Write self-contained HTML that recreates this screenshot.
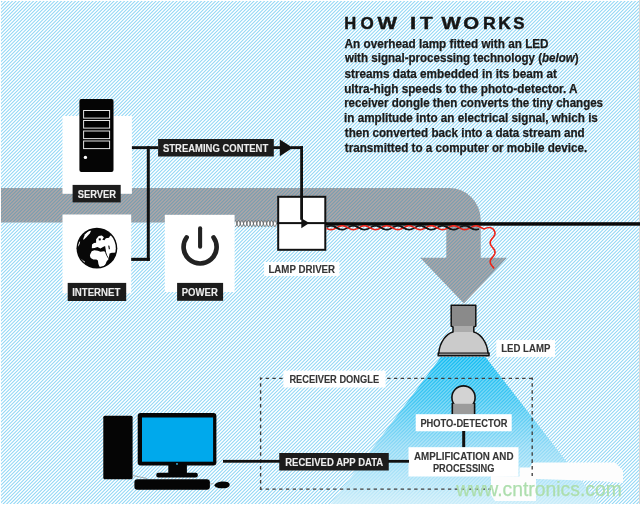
<!DOCTYPE html>
<html><head><meta charset="utf-8">
<style>
html,body{margin:0;padding:0;background:#fff;}
body{width:640px;height:505px;overflow:hidden;}
svg{display:block;will-change:transform;}
text{font-family:"Liberation Sans",sans-serif;}
</style></head>
<body>
<svg width="640" height="505" viewBox="0 0 640 505">
<defs>
  <pattern id="bgs" width="7" height="7" patternUnits="userSpaceOnUse"><rect x="0" y="0" width="1" height="1" fill="#fafdff"/><rect x="1" y="0" width="1" height="1" fill="#eaf7fd"/><rect x="2" y="0" width="1" height="1" fill="#96d9f5"/><rect x="3" y="0" width="1" height="1" fill="#dbf2fc"/><rect x="4" y="0" width="1" height="1" fill="#ffffff"/><rect x="5" y="0" width="1" height="1" fill="#bae6f9"/><rect x="6" y="0" width="1" height="1" fill="#a8dff7"/><rect x="0" y="1" width="1" height="1" fill="#eaf7fd"/><rect x="1" y="1" width="1" height="1" fill="#96d9f5"/><rect x="2" y="1" width="1" height="1" fill="#dbf2fc"/><rect x="3" y="1" width="1" height="1" fill="#ffffff"/><rect x="4" y="1" width="1" height="1" fill="#bae6f9"/><rect x="5" y="1" width="1" height="1" fill="#a8dff7"/><rect x="6" y="1" width="1" height="1" fill="#fafdff"/><rect x="0" y="2" width="1" height="1" fill="#96d9f5"/><rect x="1" y="2" width="1" height="1" fill="#dbf2fc"/><rect x="2" y="2" width="1" height="1" fill="#ffffff"/><rect x="3" y="2" width="1" height="1" fill="#bae6f9"/><rect x="4" y="2" width="1" height="1" fill="#a8dff7"/><rect x="5" y="2" width="1" height="1" fill="#fafdff"/><rect x="6" y="2" width="1" height="1" fill="#eaf7fd"/><rect x="0" y="3" width="1" height="1" fill="#dbf2fc"/><rect x="1" y="3" width="1" height="1" fill="#ffffff"/><rect x="2" y="3" width="1" height="1" fill="#bae6f9"/><rect x="3" y="3" width="1" height="1" fill="#a8dff7"/><rect x="4" y="3" width="1" height="1" fill="#fafdff"/><rect x="5" y="3" width="1" height="1" fill="#eaf7fd"/><rect x="6" y="3" width="1" height="1" fill="#96d9f5"/><rect x="0" y="4" width="1" height="1" fill="#ffffff"/><rect x="1" y="4" width="1" height="1" fill="#bae6f9"/><rect x="2" y="4" width="1" height="1" fill="#a8dff7"/><rect x="3" y="4" width="1" height="1" fill="#fafdff"/><rect x="4" y="4" width="1" height="1" fill="#eaf7fd"/><rect x="5" y="4" width="1" height="1" fill="#96d9f5"/><rect x="6" y="4" width="1" height="1" fill="#dbf2fc"/><rect x="0" y="5" width="1" height="1" fill="#bae6f9"/><rect x="1" y="5" width="1" height="1" fill="#a8dff7"/><rect x="2" y="5" width="1" height="1" fill="#fafdff"/><rect x="3" y="5" width="1" height="1" fill="#eaf7fd"/><rect x="4" y="5" width="1" height="1" fill="#96d9f5"/><rect x="5" y="5" width="1" height="1" fill="#dbf2fc"/><rect x="6" y="5" width="1" height="1" fill="#ffffff"/><rect x="0" y="6" width="1" height="1" fill="#a8dff7"/><rect x="1" y="6" width="1" height="1" fill="#fafdff"/><rect x="2" y="6" width="1" height="1" fill="#eaf7fd"/><rect x="3" y="6" width="1" height="1" fill="#96d9f5"/><rect x="4" y="6" width="1" height="1" fill="#dbf2fc"/><rect x="5" y="6" width="1" height="1" fill="#ffffff"/><rect x="6" y="6" width="1" height="1" fill="#bae6f9"/></pattern><pattern id="bands" width="7" height="7" patternUnits="userSpaceOnUse"><rect x="0" y="0" width="1" height="1" fill="#7e9eaf"/><rect x="1" y="0" width="1" height="1" fill="#a8a5a8"/><rect x="2" y="0" width="1" height="1" fill="#a6a5a8"/><rect x="3" y="0" width="1" height="1" fill="#7c9eaf"/><rect x="4" y="0" width="1" height="1" fill="#94a2ab"/><rect x="5" y="0" width="1" height="1" fill="#aea6a7"/><rect x="6" y="0" width="1" height="1" fill="#90a1ac"/><rect x="0" y="1" width="1" height="1" fill="#a8a5a8"/><rect x="1" y="1" width="1" height="1" fill="#a6a5a8"/><rect x="2" y="1" width="1" height="1" fill="#7c9eaf"/><rect x="3" y="1" width="1" height="1" fill="#94a2ab"/><rect x="4" y="1" width="1" height="1" fill="#aea6a7"/><rect x="5" y="1" width="1" height="1" fill="#90a1ac"/><rect x="6" y="1" width="1" height="1" fill="#7e9eaf"/><rect x="0" y="2" width="1" height="1" fill="#a6a5a8"/><rect x="1" y="2" width="1" height="1" fill="#7c9eaf"/><rect x="2" y="2" width="1" height="1" fill="#94a2ab"/><rect x="3" y="2" width="1" height="1" fill="#aea6a7"/><rect x="4" y="2" width="1" height="1" fill="#90a1ac"/><rect x="5" y="2" width="1" height="1" fill="#7e9eaf"/><rect x="6" y="2" width="1" height="1" fill="#a8a5a8"/><rect x="0" y="3" width="1" height="1" fill="#7c9eaf"/><rect x="1" y="3" width="1" height="1" fill="#94a2ab"/><rect x="2" y="3" width="1" height="1" fill="#aea6a7"/><rect x="3" y="3" width="1" height="1" fill="#90a1ac"/><rect x="4" y="3" width="1" height="1" fill="#7e9eaf"/><rect x="5" y="3" width="1" height="1" fill="#a8a5a8"/><rect x="6" y="3" width="1" height="1" fill="#a6a5a8"/><rect x="0" y="4" width="1" height="1" fill="#94a2ab"/><rect x="1" y="4" width="1" height="1" fill="#aea6a7"/><rect x="2" y="4" width="1" height="1" fill="#90a1ac"/><rect x="3" y="4" width="1" height="1" fill="#7e9eaf"/><rect x="4" y="4" width="1" height="1" fill="#a8a5a8"/><rect x="5" y="4" width="1" height="1" fill="#a6a5a8"/><rect x="6" y="4" width="1" height="1" fill="#7c9eaf"/><rect x="0" y="5" width="1" height="1" fill="#aea6a7"/><rect x="1" y="5" width="1" height="1" fill="#90a1ac"/><rect x="2" y="5" width="1" height="1" fill="#7e9eaf"/><rect x="3" y="5" width="1" height="1" fill="#a8a5a8"/><rect x="4" y="5" width="1" height="1" fill="#a6a5a8"/><rect x="5" y="5" width="1" height="1" fill="#7c9eaf"/><rect x="6" y="5" width="1" height="1" fill="#94a2ab"/><rect x="0" y="6" width="1" height="1" fill="#90a1ac"/><rect x="1" y="6" width="1" height="1" fill="#7e9eaf"/><rect x="2" y="6" width="1" height="1" fill="#a8a5a8"/><rect x="3" y="6" width="1" height="1" fill="#a6a5a8"/><rect x="4" y="6" width="1" height="1" fill="#7c9eaf"/><rect x="5" y="6" width="1" height="1" fill="#94a2ab"/><rect x="6" y="6" width="1" height="1" fill="#aea6a7"/></pattern><pattern id="wst" width="7" height="7" patternUnits="userSpaceOnUse"><rect x="0" y="0" width="1" height="1" fill="#ffffff" fill-opacity="0.05"/><rect x="1" y="0" width="1" height="1" fill="#ffffff" fill-opacity="0.74"/><rect x="2" y="0" width="1" height="1" fill="#ffffff" fill-opacity="0.94"/><rect x="3" y="0" width="1" height="1" fill="#ffffff" fill-opacity="0.21"/><rect x="4" y="0" width="1" height="1" fill="#ffffff" fill-opacity="0.30"/><rect x="5" y="0" width="1" height="1" fill="#ffffff" fill-opacity="0.98"/><rect x="6" y="0" width="1" height="1" fill="#ffffff" fill-opacity="0.64"/><rect x="0" y="1" width="1" height="1" fill="#ffffff" fill-opacity="0.74"/><rect x="1" y="1" width="1" height="1" fill="#ffffff" fill-opacity="0.94"/><rect x="2" y="1" width="1" height="1" fill="#ffffff" fill-opacity="0.21"/><rect x="3" y="1" width="1" height="1" fill="#ffffff" fill-opacity="0.30"/><rect x="4" y="1" width="1" height="1" fill="#ffffff" fill-opacity="0.98"/><rect x="5" y="1" width="1" height="1" fill="#ffffff" fill-opacity="0.64"/><rect x="6" y="1" width="1" height="1" fill="#ffffff" fill-opacity="0.05"/><rect x="0" y="2" width="1" height="1" fill="#ffffff" fill-opacity="0.94"/><rect x="1" y="2" width="1" height="1" fill="#ffffff" fill-opacity="0.21"/><rect x="2" y="2" width="1" height="1" fill="#ffffff" fill-opacity="0.30"/><rect x="3" y="2" width="1" height="1" fill="#ffffff" fill-opacity="0.98"/><rect x="4" y="2" width="1" height="1" fill="#ffffff" fill-opacity="0.64"/><rect x="5" y="2" width="1" height="1" fill="#ffffff" fill-opacity="0.05"/><rect x="6" y="2" width="1" height="1" fill="#ffffff" fill-opacity="0.74"/><rect x="0" y="3" width="1" height="1" fill="#ffffff" fill-opacity="0.21"/><rect x="1" y="3" width="1" height="1" fill="#ffffff" fill-opacity="0.30"/><rect x="2" y="3" width="1" height="1" fill="#ffffff" fill-opacity="0.98"/><rect x="3" y="3" width="1" height="1" fill="#ffffff" fill-opacity="0.64"/><rect x="4" y="3" width="1" height="1" fill="#ffffff" fill-opacity="0.05"/><rect x="5" y="3" width="1" height="1" fill="#ffffff" fill-opacity="0.74"/><rect x="6" y="3" width="1" height="1" fill="#ffffff" fill-opacity="0.94"/><rect x="0" y="4" width="1" height="1" fill="#ffffff" fill-opacity="0.30"/><rect x="1" y="4" width="1" height="1" fill="#ffffff" fill-opacity="0.98"/><rect x="2" y="4" width="1" height="1" fill="#ffffff" fill-opacity="0.64"/><rect x="3" y="4" width="1" height="1" fill="#ffffff" fill-opacity="0.05"/><rect x="4" y="4" width="1" height="1" fill="#ffffff" fill-opacity="0.74"/><rect x="5" y="4" width="1" height="1" fill="#ffffff" fill-opacity="0.94"/><rect x="6" y="4" width="1" height="1" fill="#ffffff" fill-opacity="0.21"/><rect x="0" y="5" width="1" height="1" fill="#ffffff" fill-opacity="0.98"/><rect x="1" y="5" width="1" height="1" fill="#ffffff" fill-opacity="0.64"/><rect x="2" y="5" width="1" height="1" fill="#ffffff" fill-opacity="0.05"/><rect x="3" y="5" width="1" height="1" fill="#ffffff" fill-opacity="0.74"/><rect x="4" y="5" width="1" height="1" fill="#ffffff" fill-opacity="0.94"/><rect x="5" y="5" width="1" height="1" fill="#ffffff" fill-opacity="0.21"/><rect x="6" y="5" width="1" height="1" fill="#ffffff" fill-opacity="0.30"/><rect x="0" y="6" width="1" height="1" fill="#ffffff" fill-opacity="0.64"/><rect x="1" y="6" width="1" height="1" fill="#ffffff" fill-opacity="0.05"/><rect x="2" y="6" width="1" height="1" fill="#ffffff" fill-opacity="0.74"/><rect x="3" y="6" width="1" height="1" fill="#ffffff" fill-opacity="0.94"/><rect x="4" y="6" width="1" height="1" fill="#ffffff" fill-opacity="0.21"/><rect x="5" y="6" width="1" height="1" fill="#ffffff" fill-opacity="0.30"/><rect x="6" y="6" width="1" height="1" fill="#ffffff" fill-opacity="0.98"/></pattern>
  <linearGradient id="coneg" x1="0" y1="357" x2="0" y2="505" gradientUnits="userSpaceOnUse">
    <stop offset="0" stop-color="#0cbaf1"/>
    <stop offset="0.3" stop-color="#3cc5f2"/>
    <stop offset="0.6" stop-color="#88d7f5"/>
    <stop offset="1" stop-color="#c8ecf9"/>
  </linearGradient>
  <clipPath id="gclip"><circle cx="96.9" cy="248.2" r="18.9"/></clipPath>
</defs>

<!-- background -->
<rect x="0" y="0" width="640" height="505" fill="url(#bgs)"/>
<rect x="0" y="0" width="640" height="1" fill="#fff"/>
<rect x="0" y="0" width="1" height="505" fill="#fff"/>

<!-- grey band + arrow -->
<path d="M1 188 H449 A31.5 31.5 0 0 1 480.7 219.5 V257.8 H507 L463.9 303.6 L420.2 257.8 H446.3 V222.6 H1 Z" fill="url(#bands)"/>

<!-- light cone -->
<path d="M441 357 L485.5 357 L600 505 L330 505 Z" fill="url(#coneg)"/>
<path d="M441 357 L485.5 357 L600 505 L330 505 Z" fill="url(#wst)" opacity="0.35"/>

<!-- white boxes -->
<rect x="62.5" y="116" width="69.4" height="77.8" fill="#fff"/>
<rect x="62.5" y="214.5" width="68.7" height="78.8" fill="#fff"/>
<rect x="164.8" y="214.8" width="69.8" height="77.2" fill="#fff"/>

<!-- server -->
<rect x="79.4" y="99" width="34.1" height="72.9" rx="2" fill="#050505"/>
<g fill="#000" stroke="#e6e6e6" stroke-width="1">
<rect x="83.6" y="110.5" width="26" height="7.6"/>
<rect x="83.6" y="120.5" width="26" height="7.6"/>
<rect x="83.6" y="131" width="26" height="7.6"/>
<rect x="83.6" y="141" width="26" height="7.6"/>
</g>
<circle cx="85.4" cy="157.4" r="1.7" fill="#fff"/>

<!-- globe -->
<circle cx="96.9" cy="248.2" r="20.4" fill="#080808"/>
<g clip-path="url(#gclip)" fill="#fff">
<path d="M89.9 255.8 L90.2 254.3 L91.7 251.2 L94.3 250.2 L97.9 250.7 L100.5 251.7 L103.6 251.2 L105.1 251.7 L105.6 253.8 L107.2 256.9 L108.7 258.9 L108.2 259.4 L106.6 261.5 L105.6 264.1 L103.6 266.6 L101 267.7 L99.4 266.6 L98.4 264.1 L97.9 260.5 L96.4 259.4 L93.3 259.4 L90.7 257.9 Z"/>
<path d="M91.8 248.3 L92 244.4 L94 243 L96.1 242.8 L96.1 239.2 L98.7 236.1 L101.8 235.6 L103.9 237.2 L102.3 239.7 L104.4 240.2 L105.9 238.2 L109 237.7 L110 236.1 L111.6 235.1 L113.6 237.2 L119 236 L119 252 L113.5 252.8 L111.8 252.7 L109.6 253.6 L108.7 258.3 L107.2 255.5 L106.1 252.2 L105.6 249.1 L105.1 246.1 L103 247.1 L100.5 248.6 L97.4 247.1 L94.6 248 Z"/>
<path d="M98.6 238.6 L100.6 238.3 L100.9 240.3 L98.9 240.6 Z" fill="#080808"/>
<path d="M83 239.6 L85 234.2 L88.4 231.1 L91.2 230.4 L89.9 233.2 L86.8 236.8 L84 239.6 Z"/>
<path d="M77.1 246.6 L78.6 242.5 L80.1 240.9 L79.6 244 L77.8 247.1 Z"/>
<path d="M78.8 257 L81.2 258.9 L85 261.8 L84.5 263.7 L82.1 262.3 L79.3 259.4 Z"/>
</g>
<g fill="#080808">
<path d="M108.2 245.5 L109.4 245.8 L109.9 249.1 L108.9 249.4 Z"/>
</g>

<!-- power icon -->
<g fill="none" stroke="#222" stroke-linecap="round">
<path d="M186.6 237.5 A16.5 16.5 0 1 0 213.6 237.5" stroke-width="4.7"/>
<line x1="200.1" y1="228.2" x2="200.1" y2="246.8" stroke-width="4.1"/>
</g>

<!-- connection lines -->
<g fill="#111">
<rect x="131.9" y="146.2" width="26.2" height="2.9"/>
<rect x="146.8" y="146.2" width="3" height="114.7"/>
<rect x="131.2" y="257.8" width="18.6" height="3.1"/>
<rect x="273" y="146.2" width="8" height="2.9"/>
<path d="M279.8 139.6 L279.8 156.3 L292.8 147.7 Z"/>
<rect x="291" y="146.2" width="12" height="2.9"/>
<rect x="300.2" y="146.2" width="2.8" height="73.9"/>
</g>

<!-- labels dark -->
<g fill="#1c1c1c">
<rect x="158.1" y="139" width="115.7" height="17.5"/>
<rect x="72.6" y="184.9" width="48.1" height="17.5"/>
<rect x="67.7" y="282.9" width="58.5" height="18.1"/>
<rect x="177.1" y="282.9" width="46" height="17.9"/>
<rect x="279.25" y="453" width="109.5" height="17.5"/>
</g>

<!-- coil -->
<path d="M235.30 226.60 L235.55 226.52 L235.80 226.27 L236.05 225.87 L236.30 225.34 L236.55 224.71 L236.80 224.03 L237.05 223.31 L237.30 222.62 L237.55 221.98 L237.80 221.43 L238.05 221.00 L238.30 220.72 L238.55 220.60 L238.80 220.65 L239.05 220.87 L239.30 221.24 L239.55 221.75 L239.80 222.35 L240.05 223.03 L240.30 223.74 L240.55 224.45 L240.80 225.10 L241.05 225.67 L241.30 226.12 L241.55 226.44 L241.80 226.59 L242.05 226.57 L242.30 226.39 L242.55 226.04 L242.80 225.56 L243.05 224.97 L243.30 224.31 L243.55 223.60 L243.80 222.89 L244.05 222.23 L244.30 221.64 L244.55 221.16 L244.80 220.81 L245.05 220.63 L245.30 220.61 L245.55 220.76 L245.80 221.08 L246.05 221.53 L246.30 222.10 L246.55 222.75 L246.80 223.46 L247.05 224.17 L247.30 224.85 L247.55 225.45 L247.80 225.96 L248.05 226.33 L248.30 226.55 L248.55 226.60 L248.80 226.48 L249.05 226.20 L249.30 225.77 L249.55 225.22 L249.80 224.58 L250.05 223.89 L250.30 223.17 L250.55 222.49 L250.80 221.86 L251.05 221.33 L251.30 220.93 L251.55 220.68 L251.80 220.60 L252.05 220.68 L252.30 220.93 L252.55 221.33 L252.80 221.86 L253.05 222.49 L253.30 223.17 L253.55 223.89 L253.80 224.58 L254.05 225.22 L254.30 225.77 L254.55 226.20 L254.80 226.48 L255.05 226.60 L255.30 226.55 L255.55 226.33 L255.80 225.96 L256.05 225.45 L256.30 224.85 L256.55 224.17 L256.80 223.46 L257.05 222.75 L257.30 222.10 L257.55 221.53 L257.80 221.08 L258.05 220.76 L258.30 220.61 L258.55 220.63 L258.80 220.81 L259.05 221.16 L259.30 221.64 L259.55 222.23 L259.80 222.89 L260.05 223.60 L260.30 224.31 L260.55 224.97 L260.80 225.56 L261.05 226.04 L261.30 226.39 L261.55 226.57 L261.80 226.59 L262.05 226.44 L262.30 226.12 L262.55 225.67 L262.80 225.10 L263.05 224.45 L263.30 223.74 L263.55 223.03 L263.80 222.35 L264.05 221.75 L264.30 221.24 L264.55 220.87 L264.80 220.65 L265.05 220.60 L265.30 220.72 L265.55 221.00 L265.80 221.43 L266.05 221.98 L266.30 222.62 L266.55 223.31 L266.80 224.03 L267.05 224.71 L267.30 225.34 L267.55 225.87 L267.80 226.27 L268.05 226.52 L268.30 226.60 L268.55 226.52 L268.80 226.27 L269.05 225.87 L269.30 225.34 L269.55 224.71 L269.80 224.03 L270.05 223.31 L270.30 222.62 L270.55 221.98 L270.80 221.43 L271.05 221.00 L271.30 220.72 L271.55 220.60 L271.80 220.65 L272.05 220.87 L272.30 221.24 L272.55 221.75 L272.80 222.35 L273.05 223.03 L273.30 223.74 L273.55 224.45 L273.80 225.10 L274.05 225.67 L274.30 226.12 L274.55 226.44 L274.80 226.59 L275.05 226.57 L275.30 226.39 L275.55 226.04 L275.80 225.56 L276.05 224.97 L276.30 224.31 L276.55 223.60 L276.55 223.60 L276.30 222.89 L276.05 222.23 L275.80 221.64 L275.55 221.16 L275.30 220.81 L275.05 220.63 L274.80 220.61 L274.55 220.76 L274.30 221.08 L274.05 221.53 L273.80 222.10 L273.55 222.75 L273.30 223.46 L273.05 224.17 L272.80 224.85 L272.55 225.45 L272.30 225.96 L272.05 226.33 L271.80 226.55 L271.55 226.60 L271.30 226.48 L271.05 226.20 L270.80 225.77 L270.55 225.22 L270.30 224.58 L270.05 223.89 L269.80 223.17 L269.55 222.49 L269.30 221.86 L269.05 221.33 L268.80 220.93 L268.55 220.68 L268.30 220.60 L268.05 220.68 L267.80 220.93 L267.55 221.33 L267.30 221.86 L267.05 222.49 L266.80 223.17 L266.55 223.89 L266.30 224.58 L266.05 225.22 L265.80 225.77 L265.55 226.20 L265.30 226.48 L265.05 226.60 L264.80 226.55 L264.55 226.33 L264.30 225.96 L264.05 225.45 L263.80 224.85 L263.55 224.17 L263.30 223.46 L263.05 222.75 L262.80 222.10 L262.55 221.53 L262.30 221.08 L262.05 220.76 L261.80 220.61 L261.55 220.63 L261.30 220.81 L261.05 221.16 L260.80 221.64 L260.55 222.23 L260.30 222.89 L260.05 223.60 L259.80 224.31 L259.55 224.97 L259.30 225.56 L259.05 226.04 L258.80 226.39 L258.55 226.57 L258.30 226.59 L258.05 226.44 L257.80 226.12 L257.55 225.67 L257.30 225.10 L257.05 224.45 L256.80 223.74 L256.55 223.03 L256.30 222.35 L256.05 221.75 L255.80 221.24 L255.55 220.87 L255.30 220.65 L255.05 220.60 L254.80 220.72 L254.55 221.00 L254.30 221.43 L254.05 221.98 L253.80 222.62 L253.55 223.31 L253.30 224.03 L253.05 224.71 L252.80 225.34 L252.55 225.87 L252.30 226.27 L252.05 226.52 L251.80 226.60 L251.55 226.52 L251.30 226.27 L251.05 225.87 L250.80 225.34 L250.55 224.71 L250.30 224.03 L250.05 223.31 L249.80 222.62 L249.55 221.98 L249.30 221.43 L249.05 221.00 L248.80 220.72 L248.55 220.60 L248.30 220.65 L248.05 220.87 L247.80 221.24 L247.55 221.75 L247.30 222.35 L247.05 223.03 L246.80 223.74 L246.55 224.45 L246.30 225.10 L246.05 225.67 L245.80 226.12 L245.55 226.44 L245.30 226.59 L245.05 226.57 L244.80 226.39 L244.55 226.04 L244.30 225.56 L244.05 224.97 L243.80 224.31 L243.55 223.60 L243.30 222.89 L243.05 222.23 L242.80 221.64 L242.55 221.16 L242.30 220.81 L242.05 220.63 L241.80 220.61 L241.55 220.76 L241.30 221.08 L241.05 221.53 L240.80 222.10 L240.55 222.75 L240.30 223.46 L240.05 224.17 L239.80 224.85 L239.55 225.45 L239.30 225.96 L239.05 226.33 L238.80 226.55 L238.55 226.60 L238.30 226.48 L238.05 226.20 L237.80 225.77 L237.55 225.22 L237.30 224.58 L237.05 223.89 L236.80 223.17 L236.55 222.49 L236.30 221.86 L236.05 221.33 L235.80 220.93 L235.55 220.68 L235.30 220.60 Z" fill="#fff"/>
<path d="M235.30 226.60 L235.55 226.52 L235.80 226.27 L236.05 225.87 L236.30 225.34 L236.55 224.71 L236.80 224.03 L237.05 223.31 L237.30 222.62 L237.55 221.98 L237.80 221.43 L238.05 221.00 L238.30 220.72 L238.55 220.60 L238.80 220.65 L239.05 220.87 L239.30 221.24 L239.55 221.75 L239.80 222.35 L240.05 223.03 L240.30 223.74 L240.55 224.45 L240.80 225.10 L241.05 225.67 L241.30 226.12 L241.55 226.44 L241.80 226.59 L242.05 226.57 L242.30 226.39 L242.55 226.04 L242.80 225.56 L243.05 224.97 L243.30 224.31 L243.55 223.60 L243.80 222.89 L244.05 222.23 L244.30 221.64 L244.55 221.16 L244.80 220.81 L245.05 220.63 L245.30 220.61 L245.55 220.76 L245.80 221.08 L246.05 221.53 L246.30 222.10 L246.55 222.75 L246.80 223.46 L247.05 224.17 L247.30 224.85 L247.55 225.45 L247.80 225.96 L248.05 226.33 L248.30 226.55 L248.55 226.60 L248.80 226.48 L249.05 226.20 L249.30 225.77 L249.55 225.22 L249.80 224.58 L250.05 223.89 L250.30 223.17 L250.55 222.49 L250.80 221.86 L251.05 221.33 L251.30 220.93 L251.55 220.68 L251.80 220.60 L252.05 220.68 L252.30 220.93 L252.55 221.33 L252.80 221.86 L253.05 222.49 L253.30 223.17 L253.55 223.89 L253.80 224.58 L254.05 225.22 L254.30 225.77 L254.55 226.20 L254.80 226.48 L255.05 226.60 L255.30 226.55 L255.55 226.33 L255.80 225.96 L256.05 225.45 L256.30 224.85 L256.55 224.17 L256.80 223.46 L257.05 222.75 L257.30 222.10 L257.55 221.53 L257.80 221.08 L258.05 220.76 L258.30 220.61 L258.55 220.63 L258.80 220.81 L259.05 221.16 L259.30 221.64 L259.55 222.23 L259.80 222.89 L260.05 223.60 L260.30 224.31 L260.55 224.97 L260.80 225.56 L261.05 226.04 L261.30 226.39 L261.55 226.57 L261.80 226.59 L262.05 226.44 L262.30 226.12 L262.55 225.67 L262.80 225.10 L263.05 224.45 L263.30 223.74 L263.55 223.03 L263.80 222.35 L264.05 221.75 L264.30 221.24 L264.55 220.87 L264.80 220.65 L265.05 220.60 L265.30 220.72 L265.55 221.00 L265.80 221.43 L266.05 221.98 L266.30 222.62 L266.55 223.31 L266.80 224.03 L267.05 224.71 L267.30 225.34 L267.55 225.87 L267.80 226.27 L268.05 226.52 L268.30 226.60 L268.55 226.52 L268.80 226.27 L269.05 225.87 L269.30 225.34 L269.55 224.71 L269.80 224.03 L270.05 223.31 L270.30 222.62 L270.55 221.98 L270.80 221.43 L271.05 221.00 L271.30 220.72 L271.55 220.60 L271.80 220.65 L272.05 220.87 L272.30 221.24 L272.55 221.75 L272.80 222.35 L273.05 223.03 L273.30 223.74 L273.55 224.45 L273.80 225.10 L274.05 225.67 L274.30 226.12 L274.55 226.44 L274.80 226.59 L275.05 226.57 L275.30 226.39 L275.55 226.04 L275.80 225.56 L276.05 224.97 L276.30 224.31 L276.55 223.60 M235.30 220.60 L235.55 220.68 L235.80 220.93 L236.05 221.33 L236.30 221.86 L236.55 222.49 L236.80 223.17 L237.05 223.89 L237.30 224.58 L237.55 225.22 L237.80 225.77 L238.05 226.20 L238.30 226.48 L238.55 226.60 L238.80 226.55 L239.05 226.33 L239.30 225.96 L239.55 225.45 L239.80 224.85 L240.05 224.17 L240.30 223.46 L240.55 222.75 L240.80 222.10 L241.05 221.53 L241.30 221.08 L241.55 220.76 L241.80 220.61 L242.05 220.63 L242.30 220.81 L242.55 221.16 L242.80 221.64 L243.05 222.23 L243.30 222.89 L243.55 223.60 L243.80 224.31 L244.05 224.97 L244.30 225.56 L244.55 226.04 L244.80 226.39 L245.05 226.57 L245.30 226.59 L245.55 226.44 L245.80 226.12 L246.05 225.67 L246.30 225.10 L246.55 224.45 L246.80 223.74 L247.05 223.03 L247.30 222.35 L247.55 221.75 L247.80 221.24 L248.05 220.87 L248.30 220.65 L248.55 220.60 L248.80 220.72 L249.05 221.00 L249.30 221.43 L249.55 221.98 L249.80 222.62 L250.05 223.31 L250.30 224.03 L250.55 224.71 L250.80 225.34 L251.05 225.87 L251.30 226.27 L251.55 226.52 L251.80 226.60 L252.05 226.52 L252.30 226.27 L252.55 225.87 L252.80 225.34 L253.05 224.71 L253.30 224.03 L253.55 223.31 L253.80 222.62 L254.05 221.98 L254.30 221.43 L254.55 221.00 L254.80 220.72 L255.05 220.60 L255.30 220.65 L255.55 220.87 L255.80 221.24 L256.05 221.75 L256.30 222.35 L256.55 223.03 L256.80 223.74 L257.05 224.45 L257.30 225.10 L257.55 225.67 L257.80 226.12 L258.05 226.44 L258.30 226.59 L258.55 226.57 L258.80 226.39 L259.05 226.04 L259.30 225.56 L259.55 224.97 L259.80 224.31 L260.05 223.60 L260.30 222.89 L260.55 222.23 L260.80 221.64 L261.05 221.16 L261.30 220.81 L261.55 220.63 L261.80 220.61 L262.05 220.76 L262.30 221.08 L262.55 221.53 L262.80 222.10 L263.05 222.75 L263.30 223.46 L263.55 224.17 L263.80 224.85 L264.05 225.45 L264.30 225.96 L264.55 226.33 L264.80 226.55 L265.05 226.60 L265.30 226.48 L265.55 226.20 L265.80 225.77 L266.05 225.22 L266.30 224.58 L266.55 223.89 L266.80 223.17 L267.05 222.49 L267.30 221.86 L267.55 221.33 L267.80 220.93 L268.05 220.68 L268.30 220.60 L268.55 220.68 L268.80 220.93 L269.05 221.33 L269.30 221.86 L269.55 222.49 L269.80 223.17 L270.05 223.89 L270.30 224.58 L270.55 225.22 L270.80 225.77 L271.05 226.20 L271.30 226.48 L271.55 226.60 L271.80 226.55 L272.05 226.33 L272.30 225.96 L272.55 225.45 L272.80 224.85 L273.05 224.17 L273.30 223.46 L273.55 222.75 L273.80 222.10 L274.05 221.53 L274.30 221.08 L274.55 220.76 L274.80 220.61 L275.05 220.63 L275.30 220.81 L275.55 221.16 L275.80 221.64 L276.05 222.23 L276.30 222.89 L276.55 223.60" fill="none" stroke="#555" stroke-width="0.9"/>

<!-- lamp driver -->
<rect x="278.2" y="196.8" width="47.1" height="53" fill="#fff" stroke="#111" stroke-width="2"/>
<rect x="277.2" y="222.1" width="49" height="2" fill="#111"/>
<path d="M301.3 218.3 L301.3 228.2 L309.3 223.1 Z" fill="#111"/>
<rect x="300.2" y="195.8" width="2.8" height="24" fill="#111"/>

<!-- right edge -->
<rect x="639" y="0" width="1" height="505" fill="#d6d6d6"/>
<rect x="0" y="504" width="640" height="1" fill="#fff"/>
<!-- main black line -->
<rect x="326" y="222.2" width="314" height="3.5" fill="#0a0a0a"/>

<!-- waves -->
<path d="M326.50 227.13 L327.00 226.88 L327.50 226.65 L328.00 226.44 L328.50 226.25 L329.00 226.09 L329.50 225.97 L330.00 225.87 L330.50 225.82 L331.00 225.80 L331.50 225.82 L332.00 225.87 L332.50 225.97 L333.00 226.09 L333.50 226.25 L334.00 226.44 L334.50 226.65 L335.00 226.88 L335.50 227.13 L336.00 227.39 L336.50 227.66 L337.00 227.93 L337.50 228.19 L338.00 228.44 L338.50 228.68 L339.00 228.90 L339.50 229.09 L340.00 229.26 L340.50 229.40 L341.00 229.50 L341.50 229.57 L342.00 229.60 L342.50 229.59 L343.00 229.55 L343.50 229.46 L344.00 229.35 L344.50 229.20 L345.00 229.02 L345.50 228.81 L346.00 228.59 L346.50 228.34 L347.00 228.09 L347.50 227.82 L348.00 227.55 L348.50 227.29 L349.00 227.03 L349.50 226.79 L350.00 226.56 L350.50 226.36 L351.00 226.19 L351.50 226.04 L352.00 225.93 L352.50 225.85 L353.00 225.81 L353.50 225.80 L354.00 225.84 L354.50 225.91 L355.00 226.01 L355.50 226.15 L356.00 226.32 L356.50 226.52 L357.00 226.74 L357.50 226.98 L358.00 227.24 L358.50 227.50 L359.00 227.77 L359.50 228.03 L360.00 228.29 L360.50 228.54 L361.00 228.77 L361.50 228.98 L362.00 229.16 L362.50 229.32 L363.00 229.44 L363.50 229.53 L364.00 229.58 L364.50 229.60 L365.00 229.58 L365.50 229.52 L366.00 229.42 L366.50 229.29 L367.00 229.13 L367.50 228.94 L368.00 228.73 L368.50 228.49 L369.00 228.24 L369.50 227.98 L370.00 227.71 L370.50 227.45 L371.00 227.18 L371.50 226.93 L372.00 226.70 L372.50 226.48 L373.00 226.29 L373.50 226.12 L374.00 225.99 L374.50 225.89 L375.00 225.83 L375.50 225.80 L376.00 225.81 L376.50 225.86 L377.00 225.95 L377.50 226.07 L378.00 226.22 L378.50 226.40 L379.00 226.61 L379.50 226.84 L380.00 227.08 L380.50 227.34 L381.00 227.61 L381.50 227.87 L382.00 228.14 L382.50 228.39 L383.00 228.63 L383.50 228.86 L384.00 229.06 L384.50 229.23 L385.00 229.37 L385.50 229.48 L386.00 229.56 L386.50 229.60 L387.00 229.60 L387.50 229.56 L388.00 229.48 L388.50 229.37 L389.00 229.23 L389.50 229.06 L390.00 228.86 L390.50 228.63 L391.00 228.39 L391.50 228.14 L392.00 227.87 L392.50 227.61 L393.00 227.34 L393.50 227.08 L394.00 226.84 L394.50 226.61 L395.00 226.40 L395.50 226.22 L396.00 226.07 L396.50 225.95 L397.00 225.86 L397.50 225.81 L398.00 225.80 L398.50 225.83 L399.00 225.89 L399.50 225.99 L400.00 226.12 L400.50 226.29 L401.00 226.48 L401.50 226.70 L402.00 226.93 L402.50 227.18 L403.00 227.45 L403.50 227.71 L404.00 227.98 L404.50 228.24 L405.00 228.49 L405.50 228.73 L406.00 228.94 L406.50 229.13 L407.00 229.29 L407.50 229.42 L408.00 229.52 L408.50 229.58 L409.00 229.60 L409.50 229.58 L410.00 229.53 L410.50 229.44 L411.00 229.32 L411.50 229.16 L412.00 228.98 L412.50 228.77 L413.00 228.54 L413.50 228.29 L414.00 228.03 L414.50 227.77 L415.00 227.50 L415.50 227.24 L416.00 226.98 L416.50 226.74 L417.00 226.52 L417.50 226.32 L418.00 226.15 L418.50 226.01 L419.00 225.91 L419.50 225.84 L420.00 225.80 L420.50 225.81 L421.00 225.85 L421.50 225.93 L422.00 226.04 L422.50 226.19 L423.00 226.36 L423.50 226.56 L424.00 226.79 L424.50 227.03 L425.00 227.29 L425.50 227.55 L426.00 227.82 L426.50 228.09 L427.00 228.34 L427.50 228.59 L428.00 228.81 L428.50 229.02 L429.00 229.20 L429.50 229.35 L430.00 229.46 L430.50 229.55 L431.00 229.59 L431.50 229.60 L432.00 229.57 L432.50 229.50 L433.00 229.40 L433.50 229.26 L434.00 229.09 L434.50 228.90 L435.00 228.68 L435.50 228.44 L436.00 228.19 L436.50 227.93 L437.00 227.66 L437.50 227.39 L438.00 227.13 L438.50 226.88 L439.00 226.65 L439.50 226.44 L440.00 226.25 L440.50 226.09 L441.00 225.97 L441.50 225.87 L442.00 225.82 L442.50 225.80 L443.00 225.82 L443.50 225.87 L444.00 225.97 L444.50 226.09 L445.00 226.25 L445.50 226.44 L446.00 226.65 L446.50 226.88 L447.00 227.13 L447.50 227.39 L448.00 227.66 L448.50 227.93 L449.00 228.19 L449.50 228.44 L450.00 228.68 L450.50 228.90 L451.00 229.09 L451.50 229.26 L452.00 229.40 L452.50 229.50 L453.00 229.57 L453.50 229.60 L454.00 229.59 L454.50 229.55 L455.00 229.46 L455.50 229.35 L456.00 229.20 L456.50 229.02 L457.00 228.81 L457.50 228.59 L458.00 228.34 L458.50 228.09 L459.00 227.82 L459.50 227.55 L460.00 227.29 L460.50 227.03 L461.00 226.79 L461.50 226.56 L462.00 226.36 L462.50 226.19 L463.00 226.04 L463.50 225.93 L464.00 225.85 L464.50 225.81 L465.00 225.80 L465.50 225.84 L466.00 225.91 L466.50 226.01 L467.00 226.15 L467.50 226.32 L468.00 226.52 L468.50 226.74 L469.00 226.98 L469.50 227.24 L470.00 227.50 L470.50 227.77 L471.00 228.03 L471.50 228.29 L472.00 228.54 L472.50 228.77 L473.00 228.98 L473.50 229.16 L474.00 229.32 L474.50 229.44 L475.00 229.53 L475.50 229.58 L476.00 229.60 L476.50 229.58 L477.00 229.52 L477.50 229.42 L478.00 229.29 L478.50 229.13 L479.00 228.94" fill="none" stroke="#151515" stroke-width="1.7"/>
<path d="M326.50 228.27 L327.00 228.52 L327.50 228.75 L328.00 228.96 L328.50 229.15 L329.00 229.31 L329.50 229.43 L330.00 229.53 L330.50 229.58 L331.00 229.60 L331.50 229.58 L332.00 229.53 L332.50 229.43 L333.00 229.31 L333.50 229.15 L334.00 228.96 L334.50 228.75 L335.00 228.52 L335.50 228.27 L336.00 228.01 L336.50 227.74 L337.00 227.47 L337.50 227.21 L338.00 226.96 L338.50 226.72 L339.00 226.50 L339.50 226.31 L340.00 226.14 L340.50 226.00 L341.00 225.90 L341.50 225.83 L342.00 225.80 L342.50 225.81 L343.00 225.85 L343.50 225.94 L344.00 226.05 L344.50 226.20 L345.00 226.38 L345.50 226.59 L346.00 226.81 L346.50 227.06 L347.00 227.31 L347.50 227.58 L348.00 227.85 L348.50 228.11 L349.00 228.37 L349.50 228.61 L350.00 228.84 L350.50 229.04 L351.00 229.21 L351.50 229.36 L352.00 229.47 L352.50 229.55 L353.00 229.59 L353.50 229.60 L354.00 229.56 L354.50 229.49 L355.00 229.39 L355.50 229.25 L356.00 229.08 L356.50 228.88 L357.00 228.66 L357.50 228.42 L358.00 228.16 L358.50 227.90 L359.00 227.63 L359.50 227.37 L360.00 227.11 L360.50 226.86 L361.00 226.63 L361.50 226.42 L362.00 226.24 L362.50 226.08 L363.00 225.96 L363.50 225.87 L364.00 225.82 L364.50 225.80 L365.00 225.82 L365.50 225.88 L366.00 225.98 L366.50 226.11 L367.00 226.27 L367.50 226.46 L368.00 226.67 L368.50 226.91 L369.00 227.16 L369.50 227.42 L370.00 227.69 L370.50 227.95 L371.00 228.22 L371.50 228.47 L372.00 228.70 L372.50 228.92 L373.00 229.11 L373.50 229.28 L374.00 229.41 L374.50 229.51 L375.00 229.57 L375.50 229.60 L376.00 229.59 L376.50 229.54 L377.00 229.45 L377.50 229.33 L378.00 229.18 L378.50 229.00 L379.00 228.79 L379.50 228.56 L380.00 228.32 L380.50 228.06 L381.00 227.79 L381.50 227.53 L382.00 227.26 L382.50 227.01 L383.00 226.77 L383.50 226.54 L384.00 226.34 L384.50 226.17 L385.00 226.03 L385.50 225.92 L386.00 225.84 L386.50 225.80 L387.00 225.80 L387.50 225.84 L388.00 225.92 L388.50 226.03 L389.00 226.17 L389.50 226.34 L390.00 226.54 L390.50 226.77 L391.00 227.01 L391.50 227.26 L392.00 227.53 L392.50 227.79 L393.00 228.06 L393.50 228.32 L394.00 228.56 L394.50 228.79 L395.00 229.00 L395.50 229.18 L396.00 229.33 L396.50 229.45 L397.00 229.54 L397.50 229.59 L398.00 229.60 L398.50 229.57 L399.00 229.51 L399.50 229.41 L400.00 229.28 L400.50 229.11 L401.00 228.92 L401.50 228.70 L402.00 228.47 L402.50 228.22 L403.00 227.95 L403.50 227.69 L404.00 227.42 L404.50 227.16 L405.00 226.91 L405.50 226.67 L406.00 226.46 L406.50 226.27 L407.00 226.11 L407.50 225.98 L408.00 225.88 L408.50 225.82 L409.00 225.80 L409.50 225.82 L410.00 225.87 L410.50 225.96 L411.00 226.08 L411.50 226.24 L412.00 226.42 L412.50 226.63 L413.00 226.86 L413.50 227.11 L414.00 227.37 L414.50 227.63 L415.00 227.90 L415.50 228.16 L416.00 228.42 L416.50 228.66 L417.00 228.88 L417.50 229.08 L418.00 229.25 L418.50 229.39 L419.00 229.49 L419.50 229.56 L420.00 229.60 L420.50 229.59 L421.00 229.55 L421.50 229.47 L422.00 229.36 L422.50 229.21 L423.00 229.04 L423.50 228.84 L424.00 228.61 L424.50 228.37 L425.00 228.11 L425.50 227.85 L426.00 227.58 L426.50 227.31 L427.00 227.06 L427.50 226.81 L428.00 226.59 L428.50 226.38 L429.00 226.20 L429.50 226.05 L430.00 225.94 L430.50 225.85 L431.00 225.81 L431.50 225.80 L432.00 225.83 L432.50 225.90 L433.00 226.00 L433.50 226.14 L434.00 226.31 L434.50 226.50 L435.00 226.72 L435.50 226.96 L436.00 227.21 L436.50 227.47 L437.00 227.74 L437.50 228.01 L438.00 228.27 L438.50 228.52 L439.00 228.75 L439.50 228.96 L440.00 229.15 L440.50 229.31 L441.00 229.43 L441.50 229.53 L442.00 229.58 L442.50 229.60 L443.00 229.58 L443.50 229.53 L444.00 229.43 L444.50 229.31 L445.00 229.15 L445.50 228.96 L446.00 228.75 L446.50 228.52 L447.00 228.27 L447.50 228.01 L448.00 227.74 L448.50 227.47 L449.00 227.21 L449.50 226.96 L450.00 226.72 L450.50 226.50 L451.00 226.31 L451.50 226.14 L452.00 226.00 L452.50 225.90 L453.00 225.83 L453.50 225.80 L454.00 225.81 L454.50 225.85 L455.00 225.94 L455.50 226.05 L456.00 226.20 L456.50 226.38 L457.00 226.59 L457.50 226.81 L458.00 227.06 L458.50 227.31 L459.00 227.58 L459.50 227.85 L460.00 228.11 L460.50 228.37 L461.00 228.61 L461.50 228.84 L462.00 229.04 L462.50 229.21 L463.00 229.36 L463.50 229.47 L464.00 229.55 L464.50 229.59 L465.00 229.60 L465.50 229.56 L466.00 229.49 L466.50 229.39 L467.00 229.25 L467.50 229.08 L468.00 228.88 L468.50 228.66 L469.00 228.42 L469.50 228.16 L470.00 227.90 L470.50 227.63 L471.00 227.37 L471.50 227.11 L472.00 226.86 L472.50 226.63 L473.00 226.42 L473.50 226.24 L474.00 226.08 L474.50 225.96 L475.00 225.87 L475.50 225.82 L476.00 225.80 L476.50 225.82 L477.00 225.88 L477.50 225.98 L478.00 226.11 L478.50 226.27 L479.00 226.46 L479.50 226.67 L480.00 226.91 L480.50 227.16 L481.00 227.42 L481.50 227.69 L482.00 227.95 L482.50 228.22 L483.00 228.47 L483.50 228.70 L484.00 228.92 C487 227.5 490 226.5 492 228.5 L492.60 228.50 L493.00 229.00 L493.38 229.50 L493.74 230.00 L494.07 230.50 L494.37 231.00 L494.61 231.50 L494.80 232.00 L494.93 232.50 L494.99 233.00 L494.99 233.50 L494.93 234.00 L494.80 234.50 L494.61 235.00 L494.37 235.50 L494.07 236.00 L493.74 236.50 L493.38 237.00 L493.00 237.50 L492.60 238.00 L492.20 238.50 L491.82 239.00 L491.46 239.50 L491.13 240.00 L490.83 240.50 L490.59 241.00 L490.40 241.50 L490.27 242.00 L490.21 242.50 L490.21 243.00 L490.27 243.50 L490.40 244.00 L490.59 244.50 L490.83 245.00 L491.13 245.50 L491.46 246.00 L491.82 246.50 L492.20 247.00 L492.60 247.50 L493.00 248.00 L493.38 248.50 L493.74 249.00 L494.07 249.50 L494.37 250.00 L494.61 250.50 L494.80 251.00 L494.93 251.50 L494.99 252.00 L494.99 252.50 L494.93 253.00 L494.80 253.50 L494.61 254.00 L494.37 254.50 L494.07 255.00 L493.74 255.50 L493.38 256.00 L493.00 256.50 L492.60 257.00 L492.20 257.50 L491.82 258.00 L491.46 258.50 L491.13 259.00 L490.83 259.50 L490.59 260.00 L490.40 260.50 L490.27 261.00 L490.21 261.50 L490.21 262.00 L490.27 262.50 L490.40 263.00 L490.59 263.50 L490.83 264.00 L491.13 264.50 L491.46 265.00 L491.82 265.50 L492.20 266.00 L492.60 266.50 L493.00 267.00 L493.38 267.50 L493.74 268.00 L494.07 268.50" fill="none" stroke="#ea2318" stroke-width="1.6"/>
<path d="M333.57 226.28 L333.82 226.37 L334.07 226.47 L334.32 226.57 L334.57 226.69 L334.82 226.80 L335.07 226.92 L335.32 227.04 L335.57 227.17 L335.82 227.30 L336.07 227.43 L336.32 227.57 L336.57 227.70 L336.82 227.83 L337.07 227.97 L337.32 228.10 L337.57 228.23 L337.82 228.36 L338.07 228.48 L338.32 228.60 L338.57 228.71 L338.82 228.83 L339.07 228.93 L339.32 229.03 L339.57 229.12 M355.88 226.28 L356.12 226.37 L356.38 226.47 L356.62 226.57 L356.88 226.69 L357.12 226.80 L357.38 226.92 L357.62 227.04 L357.88 227.17 L358.12 227.30 L358.38 227.43 L358.62 227.57 L358.88 227.70 L359.12 227.83 L359.38 227.97 L359.62 228.10 L359.88 228.23 L360.12 228.36 L360.38 228.48 L360.62 228.60 L360.88 228.71 L361.12 228.83 L361.38 228.93 L361.62 229.03 L361.88 229.12 M378.18 226.28 L378.43 226.37 L378.68 226.47 L378.93 226.57 L379.18 226.69 L379.43 226.80 L379.68 226.92 L379.93 227.04 L380.18 227.17 L380.43 227.30 L380.68 227.43 L380.93 227.57 L381.18 227.70 L381.43 227.83 L381.68 227.97 L381.93 228.10 L382.18 228.23 L382.43 228.36 L382.68 228.48 L382.93 228.60 L383.18 228.71 L383.43 228.83 L383.68 228.93 L383.93 229.03 L384.18 229.12 M400.48 226.28 L400.73 226.37 L400.98 226.47 L401.23 226.57 L401.48 226.69 L401.73 226.80 L401.98 226.92 L402.23 227.04 L402.48 227.17 L402.73 227.30 L402.98 227.43 L403.23 227.57 L403.48 227.70 L403.73 227.83 L403.98 227.97 L404.23 228.10 L404.48 228.23 L404.73 228.36 L404.98 228.48 L405.23 228.60 L405.48 228.71 L405.73 228.83 L405.98 228.93 L406.23 229.03 L406.48 229.12 M422.77 226.28 L423.02 226.37 L423.27 226.47 L423.52 226.57 L423.77 226.69 L424.02 226.80 L424.27 226.92 L424.52 227.04 L424.77 227.17 L425.02 227.30 L425.27 227.43 L425.52 227.57 L425.77 227.70 L426.02 227.83 L426.27 227.97 L426.52 228.10 L426.77 228.23 L427.02 228.36 L427.27 228.48 L427.52 228.60 L427.77 228.71 L428.02 228.83 L428.27 228.93 L428.52 229.03 L428.77 229.12 M445.07 226.28 L445.32 226.37 L445.57 226.47 L445.82 226.57 L446.07 226.69 L446.32 226.80 L446.57 226.92 L446.82 227.04 L447.07 227.17 L447.32 227.30 L447.57 227.43 L447.82 227.57 L448.07 227.70 L448.32 227.83 L448.57 227.97 L448.82 228.10 L449.07 228.23 L449.32 228.36 L449.57 228.48 L449.82 228.60 L450.07 228.71 L450.32 228.83 L450.57 228.93 L450.82 229.03 L451.07 229.12 M467.38 226.28 L467.62 226.37 L467.88 226.47 L468.12 226.57 L468.38 226.69 L468.62 226.80 L468.88 226.92 L469.12 227.04 L469.38 227.17 L469.62 227.30 L469.88 227.43 L470.12 227.57 L470.38 227.70 L470.62 227.83 L470.88 227.97 L471.12 228.10 L471.38 228.23 L471.62 228.36 L471.88 228.48 L472.12 228.60 L472.38 228.71 L472.62 228.83 L472.88 228.93 L473.12 229.03 L473.38 229.12" fill="none" stroke="#151515" stroke-width="1.7"/>

<!-- white labels -->
<g fill="#fff">
<rect x="264.1" y="262" width="75.3" height="14"/>
<rect x="496.3" y="340" width="58.7" height="16.9"/>
</g>

<!-- LED lamp -->
<rect x="451.2" y="305.3" width="24.6" height="21" fill="#8a8a8a"/>
<rect x="453" y="326" width="20.8" height="6.5" fill="#ababab"/>
<path d="M453 332 C446.5 333.5 439.8 342 438.8 352.9 L488 352.9 C487 342 480.3 333.5 473.8 332 Z" fill="#cbcbcb"/>
<rect x="438.2" y="352.9" width="50.8" height="3" fill="#8e8e8e"/>
<path d="M451.2 305.3 L475.8 305.3 L475.8 326.1 L473.8 327 L473.8 332 C480.3 333.5 487 342 488 352.9 L489 352.9 L489 355.8 L438.2 355.8 L438.2 352.9 L438.8 352.9 C439.8 342 446.5 333.5 453 332 L453 327 L451.2 326.1 Z" fill="none" stroke="#111" stroke-width="1.5" stroke-linejoin="round"/>
<line x1="438.8" y1="353" x2="488" y2="353" stroke="#111" stroke-width="1"/>

<!-- dashed dongle box -->
<g fill="none" stroke="#3f3f3f" stroke-width="1.35">
<line x1="259.9" y1="378.3" x2="532.9" y2="378.3" stroke-dasharray="3.4 3.35" stroke-dashoffset="1.0"/>
<line x1="259.9" y1="489.1" x2="532.9" y2="489.1" stroke-dasharray="3.4 3.35" stroke-dashoffset="1.0"/>
<line x1="260.6" y1="377.6" x2="260.6" y2="489.8" stroke-dasharray="3.5 3.4" stroke-dashoffset="1.2"/>
<line x1="532.2" y1="377.6" x2="532.2" y2="489.8" stroke-dasharray="3.5 3.4" stroke-dashoffset="1.2"/>
</g>
<rect x="283.4" y="370.6" width="102.2" height="16.9" fill="#fff"/>

<!-- photodetector -->
<circle cx="463.5" cy="397.5" r="11.6" fill="#d3d3d3" stroke="#111" stroke-width="1.6"/>
<rect x="452.4" y="403.8" width="22.2" height="10.5" fill="#9b9b9b"/>
<path d="M452.3 403 V414 M474.6 403 V414" stroke="#111" stroke-width="1.6" fill="none"/>
<rect x="415.7" y="414.2" width="96" height="17.1" fill="#fff"/>
<rect x="462.2" y="431" width="3" height="16.5" fill="#111"/>
<rect x="408.5" y="447.2" width="110" height="29.3" fill="#fff"/>
<rect x="388" y="459.9" width="21" height="2.8" fill="#111"/>
<rect x="223" y="459.9" width="57" height="2.8" fill="#111"/>

<!-- computer -->
<g fill="#050505">
<rect x="103.3" y="415.8" width="29.3" height="63.4" rx="1.5"/>
<rect x="137.7" y="413.1" width="78.7" height="52.5" rx="3"/>
<rect x="168.3" y="465" width="18.6" height="9"/>
<rect x="156.3" y="472.8" width="41.5" height="4.6" rx="2"/>
<rect x="134.4" y="479.2" width="75.5" height="10.5" rx="3"/>
<path d="M214.3 485.2 C215.5 481.8 223 480.6 227.5 482 C231 483.5 230.5 487.8 224.5 488.3 C219 488.6 215 487.5 214.3 485.2 Z"/>
</g>
<rect x="142" y="417.5" width="71.1" height="44.2" fill="#00a9ec"/>
<circle cx="177" cy="463.9" r="0.9" fill="#3cc0f0"/>
<path d="M132.6 475.5 L147 478.5 M209.9 484 L213.5 483.6" stroke="#999" stroke-width="0.8" fill="none"/>

<!-- watermark blotch -->
<path d="M491 476 L519.5 476.5 L519.5 467.5 L530 467.5 L532.5 462.5 L615 462.5 L623 470.5 L623 483 L600 481 L536 479 L536 501 L495 501 L491 495 Z" fill="#fdfdfd"/>

<line x1="532.2" y1="462" x2="532.2" y2="476" stroke="#3f3f3f" stroke-width="1.35" stroke-dasharray="3.5 3.4" stroke-dashoffset="2.8"/>
<!-- texts -->
<text x="344.61" y="47.8" font-size="11.9" font-weight="bold" fill="#1b1b1b" textLength="203.99" lengthAdjust="spacingAndGlyphs" stroke="#1b1b1b" stroke-width="0.25">An overhead lamp fitted with an LED</text>
<text x="344.93" y="62.3" font-size="11.9" font-weight="bold" fill="#1b1b1b" textLength="233.74" lengthAdjust="spacingAndGlyphs" stroke="#1b1b1b" stroke-width="0.25">with signal-processing technology (<tspan font-style="italic">below</tspan>)</text>
<text x="344.49" y="77.5" font-size="11.9" font-weight="bold" fill="#1b1b1b" textLength="212.46" lengthAdjust="spacingAndGlyphs" stroke="#1b1b1b" stroke-width="0.25">streams data embedded in its beam at</text>
<text x="344.17" y="92.6" font-size="11.9" font-weight="bold" fill="#1b1b1b" textLength="233.44" lengthAdjust="spacingAndGlyphs" stroke="#1b1b1b" stroke-width="0.25">ultra-high speeds to the photo-detector. A</text>
<text x="344.14" y="107.4" font-size="11.9" font-weight="bold" fill="#1b1b1b" textLength="258.94" lengthAdjust="spacingAndGlyphs" stroke="#1b1b1b" stroke-width="0.25">receiver dongle then converts the tiny changes</text>
<text x="344.08" y="122.2" font-size="11.9" font-weight="bold" fill="#1b1b1b" textLength="253.80" lengthAdjust="spacingAndGlyphs" stroke="#1b1b1b" stroke-width="0.25">in amplitude into an electrical signal, which is</text>
<text x="344.76" y="137.1" font-size="11.9" font-weight="bold" fill="#1b1b1b" textLength="239.91" lengthAdjust="spacingAndGlyphs" stroke="#1b1b1b" stroke-width="0.25">then converted back into a data stream and</text>
<text x="344.76" y="151.7" font-size="11.9" font-weight="bold" fill="#1b1b1b" textLength="242.55" lengthAdjust="spacingAndGlyphs" stroke="#1b1b1b" stroke-width="0.25">transmitted to a computer or mobile device.</text>
<text x="163.03" y="152.2" font-size="10.0" font-weight="bold" fill="#ededed" textLength="105.17" lengthAdjust="spacingAndGlyphs" stroke="#ededed" stroke-width="0.12">STREAMING CONTENT</text>
<text x="77.63" y="197.8" font-size="10.0" font-weight="bold" fill="#ededed" textLength="38.46" lengthAdjust="spacingAndGlyphs" stroke="#ededed" stroke-width="0.12">SERVER</text>
<text x="72.15" y="295.8" font-size="10.0" font-weight="bold" fill="#ededed" textLength="48.25" lengthAdjust="spacingAndGlyphs" stroke="#ededed" stroke-width="0.12">INTERNET</text>
<text x="181.76" y="295.8" font-size="10.0" font-weight="bold" fill="#ededed" textLength="36.03" lengthAdjust="spacingAndGlyphs" stroke="#ededed" stroke-width="0.12">POWER</text>
<text x="285.16" y="466.3" font-size="10.0" font-weight="bold" fill="#ededed" textLength="98.09" lengthAdjust="spacingAndGlyphs" stroke="#ededed" stroke-width="0.12">RECEIVED APP DATA</text>
<text x="268.45" y="272.8" font-size="10.0" font-weight="bold" fill="#363636" textLength="66.65" lengthAdjust="spacingAndGlyphs" stroke="#363636" stroke-width="0.12">LAMP DRIVER</text>
<text x="501.26" y="351.5" font-size="10.0" font-weight="bold" fill="#363636" textLength="49.07" lengthAdjust="spacingAndGlyphs" stroke="#363636" stroke-width="0.12">LED LAMP</text>
<text x="289.38" y="383.1" font-size="10.0" font-weight="bold" fill="#363636" textLength="89.73" lengthAdjust="spacingAndGlyphs" stroke="#363636" stroke-width="0.12">RECEIVER DONGLE</text>
<text x="420.38" y="427.0" font-size="10.0" font-weight="bold" fill="#363636" textLength="87.01" lengthAdjust="spacingAndGlyphs" stroke="#363636" stroke-width="0.12">PHOTO-DETECTOR</text>
<text x="413.96" y="460.3" font-size="10.0" font-weight="bold" fill="#363636" textLength="99.56" lengthAdjust="spacingAndGlyphs" stroke="#363636" stroke-width="0.12">AMPLIFICATION AND</text>
<text x="432.88" y="472.2" font-size="10.0" font-weight="bold" fill="#363636" textLength="61.59" lengthAdjust="spacingAndGlyphs" stroke="#363636" stroke-width="0.12">PROCESSING</text>
<text x="344.14" y="28.8" font-size="17.0" font-weight="bold" fill="#161616" textLength="11.98" lengthAdjust="spacingAndGlyphs" stroke="#161616" stroke-width="0.45">H</text>
<text x="360.55" y="28.8" font-size="17.0" font-weight="bold" fill="#161616" textLength="13.26" lengthAdjust="spacingAndGlyphs" stroke="#161616" stroke-width="0.45">O</text>
<text x="377.48" y="28.8" font-size="17.0" font-weight="bold" fill="#161616" textLength="19.44" lengthAdjust="spacingAndGlyphs" stroke="#161616" stroke-width="0.45">W</text>
<text x="410.12" y="28.8" font-size="17.0" font-weight="bold" fill="#161616" textLength="6.16" lengthAdjust="spacingAndGlyphs" stroke="#161616" stroke-width="0.45">I</text>
<text x="420.07" y="28.8" font-size="17.0" font-weight="bold" fill="#161616" textLength="12.65" lengthAdjust="spacingAndGlyphs" stroke="#161616" stroke-width="0.45">T</text>
<text x="441.58" y="28.8" font-size="17.0" font-weight="bold" fill="#161616" textLength="19.34" lengthAdjust="spacingAndGlyphs" stroke="#161616" stroke-width="0.45">W</text>
<text x="463.16" y="28.8" font-size="17.0" font-weight="bold" fill="#161616" textLength="15.89" lengthAdjust="spacingAndGlyphs" stroke="#161616" stroke-width="0.45">O</text>
<text x="483.12" y="28.8" font-size="17.0" font-weight="bold" fill="#161616" textLength="12.74" lengthAdjust="spacingAndGlyphs" stroke="#161616" stroke-width="0.45">R</text>
<text x="498.34" y="28.8" font-size="17.0" font-weight="bold" fill="#161616" textLength="12.52" lengthAdjust="spacingAndGlyphs" stroke="#161616" stroke-width="0.45">K</text>
<text x="513.31" y="28.8" font-size="17.0" font-weight="bold" fill="#161616" textLength="11.24" lengthAdjust="spacingAndGlyphs" stroke="#161616" stroke-width="0.45">S</text>
<text x="456.33" y="495.6" font-size="21.0" font-weight="normal" fill="#addead" textLength="165.55" lengthAdjust="spacingAndGlyphs" stroke="#addead" stroke-width="0.25">www.cntronics.com</text>

</svg>
</body></html>
